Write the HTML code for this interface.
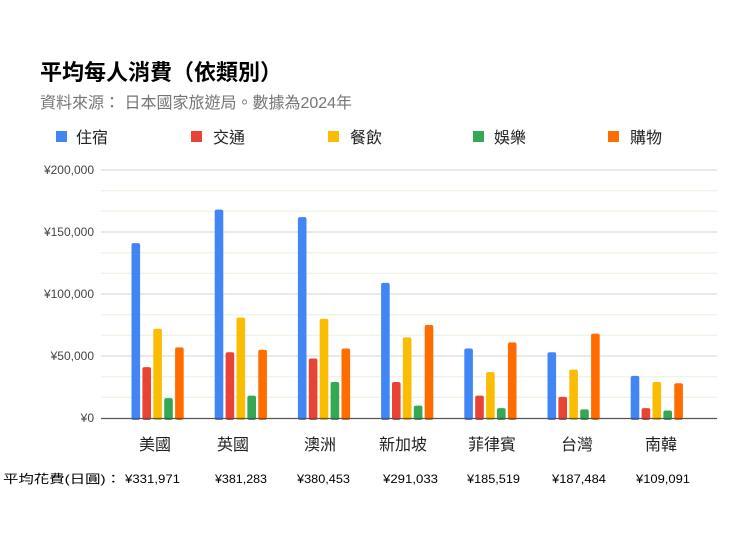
<!DOCTYPE html>
<html><head><meta charset="utf-8"><style>
html,body{margin:0;padding:0;background:#fff;}
svg{display:block;}
text{font-family:"Liberation Sans","Noto Sans CJK TC",sans-serif;}
</style></head><body>
<svg width="750" height="536" xmlns="http://www.w3.org/2000/svg">
<text x="40" y="80" font-size="22" font-weight="bold" fill="#000">平均每人消費（依類別）</text>
<text x="40" y="108" font-size="16" fill="#757575">資料來源： 日本國家旅遊局。數據為2024年</text>
<g font-size="16" fill="#222">
<rect x="56" y="131" width="11" height="11" fill="#4285f4"/><text x="76" y="143">住宿</text>
<rect x="191" y="131" width="11" height="11" fill="#ea4335"/><text x="213" y="143">交通</text>
<rect x="328" y="131" width="11" height="11" fill="#fbbc04"/><text x="350" y="143">餐飲</text>
<rect x="473" y="131" width="11" height="11" fill="#34a853"/><text x="494" y="143">娛樂</text>
<rect x="608" y="131" width="11" height="11" fill="#ff6d01"/><text x="630" y="143">購物</text>
</g>
<g stroke="#e6f0dc" stroke-width="1">
<line x1="101" x2="717" y1="190.7" y2="190.7"/><line x1="101" x2="717" y1="211.3" y2="211.3"/>
<line x1="101" x2="717" y1="252.7" y2="252.7"/><line x1="101" x2="717" y1="273.3" y2="273.3"/>
<line x1="101" x2="717" y1="314.7" y2="314.7"/><line x1="101" x2="717" y1="335.3" y2="335.3"/>
<line x1="101" x2="717" y1="376.7" y2="376.7"/><line x1="101" x2="717" y1="397.3" y2="397.3"/>
</g>
<g stroke="#dcdcdc" stroke-width="1.2">
<line x1="101" x2="717" y1="170" y2="170"/><line x1="101" x2="717" y1="232" y2="232"/>
<line x1="101" x2="717" y1="294" y2="294"/><line x1="101" x2="717" y1="356" y2="356"/>
</g>
<g font-size="12" fill="#444" text-anchor="end">
<text x="94" y="174">¥200,000</text><text x="94" y="236">¥150,000</text>
<text x="94" y="298">¥100,000</text><text x="94" y="360">¥50,000</text><text x="94" y="422">¥0</text>
</g>
<g id="bars"></g>
<line x1="101" x2="717" y1="418.5" y2="418.5" stroke="#555" stroke-width="1.2"/>
<g font-size="16" fill="#222" text-anchor="middle">
<text x="155" y="450">美國</text><text x="233" y="450">英國</text><text x="320" y="450">澳洲</text>
<text x="403" y="450">新加坡</text><text x="492" y="450">菲律賓</text><text x="577" y="450">台灣</text><text x="661" y="450">南韓</text>
</g>
<g font-size="12" fill="#000">
<text x="3" y="483" textLength="118" lengthAdjust="spacingAndGlyphs">平均花費(日圓)：</text>
<text x="125" y="483" textLength="55" lengthAdjust="spacingAndGlyphs">¥331,971</text>
<text x="215" y="483" textLength="52" lengthAdjust="spacingAndGlyphs">¥381,283</text>
<text x="297" y="483" textLength="53" lengthAdjust="spacingAndGlyphs">¥380,453</text>
<text x="383" y="483" textLength="55" lengthAdjust="spacingAndGlyphs">¥291,033</text>
<text x="467" y="483" textLength="53" lengthAdjust="spacingAndGlyphs">¥185,519</text>
<text x="552" y="483" textLength="54" lengthAdjust="spacingAndGlyphs">¥187,484</text>
<text x="636" y="483" textLength="54" lengthAdjust="spacingAndGlyphs">¥109,091</text>
</g>
</svg>
<script>
var d=[[141,41,72,16,57],[168,53,81,18,55],[162,48,80,29,56],[109,29,65,10,75],[56,18,37,8,61],[53,17,39,7,68],[34,8,29,6,28]];
var c=["#4285f4","#ea4335","#fbbc04","#34a853","#ff6d01"];
var g=document.getElementById("bars"),s="";
for(var i=0;i<7;i++)for(var j=0;j<5;j++){var h=d[i][j]*1.24,x=131.5+i*83.2+j*10.9;
s+='<rect x="'+x+'" y="'+(418-h)+'" width="8.6" height="'+(h+2)+'" rx="2" fill="'+c[j]+'"/>';}
g.innerHTML=s;
</script>
</body></html>
